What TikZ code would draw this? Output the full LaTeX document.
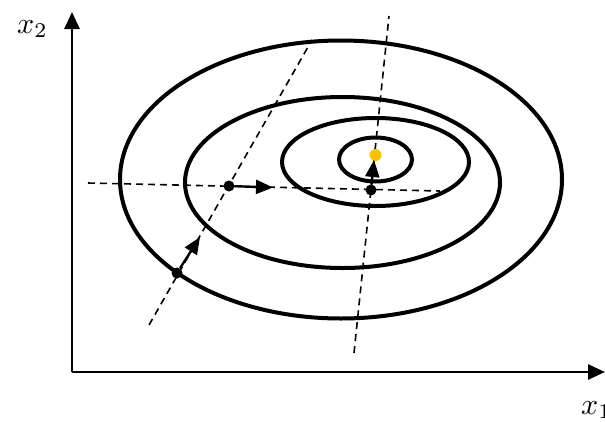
\documentclass[tikz,border=0pt]{standalone}
\usepackage{graphicx}
\usetikzlibrary{arrows.meta}
\definecolor{optgold}{RGB}{255,192,0}
\begin{document}
\begin{tikzpicture}[x=1pt,y=-1pt,
  contour/.style={line width=4pt},
  axis/.style={line width=2.8pt,-{Triangle[length=17pt,width=15pt]}},
  guide/.style={line width=1.6pt,dash pattern=on 7pt off 5pt},
  dot/.style={circle,fill=black,inner sep=0pt,minimum size=11pt},
  optdot/.style={circle,fill=optgold,inner sep=0pt,minimum size=12pt},
  stepvec/.style={line width=2.4pt,-{Triangle[length=17pt,width=14pt]}},
  lbl/.style={inner sep=0pt}]
\useasboundingbox (0,0) rectangle (605,421);
% axes
\coordinate (O) at (72,372);
\coordinate (ytip) at (72,12);
\coordinate (xtip) at (605,372);
\draw[axis] (O) -- (ytip);
\draw[axis] (O) -- (xtip);
\node[lbl,anchor=base west] (x2) at (17,33) {\scalebox{3}{$x_2$}};
\node[lbl,anchor=base west] (x1) at (581,414) {\scalebox{3}{$x_1$}};
% contours
\draw[contour] (341,179.5) ellipse [x radius=221, y radius=139];
\draw[contour] (342.5,182.5) ellipse [x radius=157.5, y radius=85.5];
\draw[contour] (375.5,162) ellipse [x radius=93.5, y radius=44];
\draw[contour] (375.5,159.5) ellipse [x radius=36.5, y radius=22];
% guide lines
\coordinate (s1) at (149,325);
\coordinate (s2) at (312,40);
\coordinate (h1) at (88,183);
\coordinate (h2) at (440,191);
\coordinate (v1) at (354,353);
\coordinate (v2) at (389,16);
\draw[guide] (s1) -- (s2);
\draw[guide] (h1) -- (h2);
\draw[guide] (v1) -- (v2);
% points
\node[dot] (p1) at (177,273) {};
\node[dot] (p2) at (229,186) {};
\node[dot] (p3) at (371,190) {};
\node[optdot] (p4) at (375.5,155) {};
\coordinate (t1) at (200,237);
\coordinate (t2) at (273,187.5);
\coordinate (t3) at (374,160);
\draw[stepvec] (p1) -- (t1);
\draw[stepvec] (p2) -- (t2);
\draw[stepvec] (p3) -- (t3);
\end{tikzpicture}
\end{document}
